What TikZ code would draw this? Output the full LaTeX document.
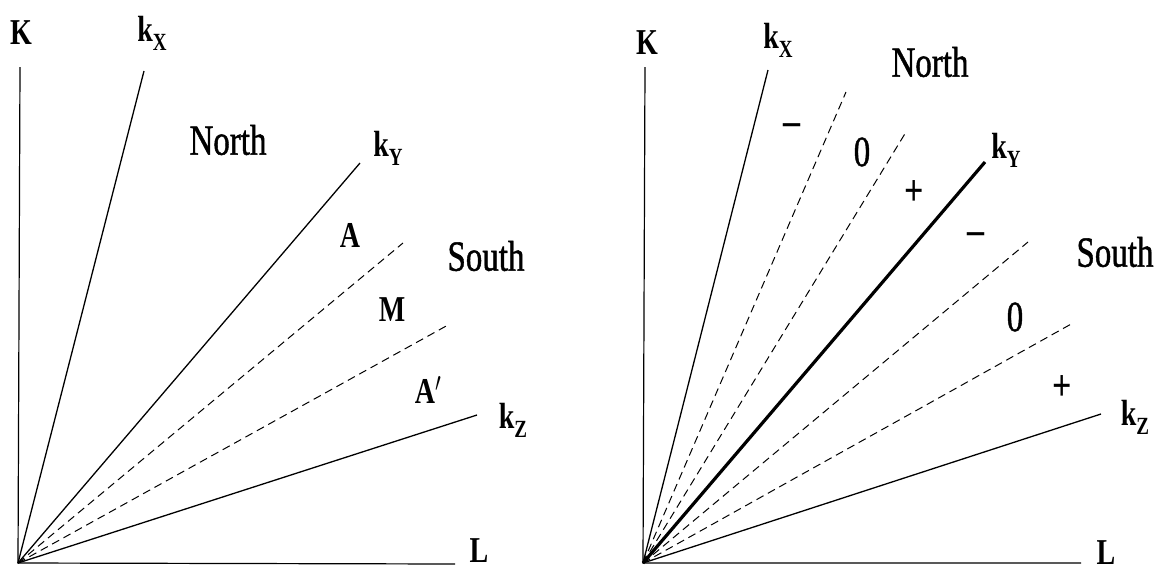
\documentclass[tikz,border=0pt]{standalone}
\usepackage{fontspec}
\setmainfont{Liberation Serif}
\newfontfamily\semib{Liberation Serif}[FakeBold=1.2]
\usepackage{graphicx}
\newcommand{\tall}[1]{\scalebox{1}[1.3]{#1}}
\newcommand{\klab}[1]{\tall{\bfseries k\raisebox{-7pt}{\fontsize{19}{19}\selectfont\bfseries #1}}}
\tikzset{
  axisline/.style={line width=1.2pt},
  ray/.style={line width=1.3pt},
  thickray/.style={line width=3.2pt},
  dray/.style={line width=1pt, dash pattern=on 8pt off 5pt},
  blab/.style={font=\fontsize{28}{30}\selectfont\bfseries, inner sep=0pt},
  rlab/.style={font=\fontsize{33}{36}\selectfont\semib, inner sep=0pt},
  slab/.style={font=\fontsize{34}{36}\selectfont\bfseries, inner sep=0pt},
}
\begin{document}
\begin{tikzpicture}[x=1pt,y=-1pt]
\useasboundingbox (0,0) rectangle (1163,571);
% ---------------- left panel ----------------
\coordinate (O1) at (18,563);
\coordinate (K1) at (20,67);
\coordinate (L1) at (455,564);
\coordinate (X1) at (144,71);
\coordinate (Y1) at (360,163);
\coordinate (D1a) at (403,243);
\coordinate (D1b) at (448,325);
\coordinate (Z1) at (477,415);
\draw[axisline] (K1) -- (O1) -- (L1);
\draw[ray] (O1) -- (X1);
\draw[ray] (O1) -- (Y1);
\draw[dray] (O1) -- (D1a);
\draw[dray] (O1) -- (D1b);
\draw[ray] (O1) -- (Z1);
\node[blab] (lK) at (21,33) {\tall{K}};
\node[blab] (lkx) at (152,33) {\klab{X}};
\node[rlab] (lNorth) at (228,140) {\tall{North}};
\node[blab] (lky) at (388,148) {\klab{Y}};
\node[blab] (lA) at (350,235) {\tall{A}};
\node[rlab] (lSouth) at (486,256) {\tall{South}};
\node[blab] (lM) at (392,310) {\tall{M}};
\node[blab] (lAp) at (428,390) {\tall{A$'$}};
\node[blab] (lkz) at (513,420) {\klab{Z}};
\node[blab] (lL) at (479,551) {\tall{L}};
% ---------------- right panel ----------------
\coordinate (O2) at (643,563);
\coordinate (K2) at (645,67);
\coordinate (L2) at (1081,563);
\coordinate (X2) at (768,70);
\coordinate (D2a) at (846,92);
\coordinate (D2b) at (906,132);
\coordinate (Y2) at (985,162);
\coordinate (D2c) at (1028,242);
\coordinate (D2d) at (1073,323);
\coordinate (Z2) at (1101,414);
\draw[axisline] (K2) -- (O2) -- (L2);
\draw[ray] (O2) -- (X2);
\draw[dray] (O2) -- (D2a);
\draw[dray] (O2) -- (D2b);
\draw[thickray] (O2) -- (Y2);
\draw[dray] (O2) -- (D2c);
\draw[dray] (O2) -- (D2d);
\draw[ray] (O2) -- (Z2);
\node[blab] (rK) at (647,43) {\tall{K}};
\node[blab] (rkx) at (778,40) {\klab{X}};
\node[rlab] (rNorth) at (930,62) {\tall{North}};
\node[slab] (rm1) at (792,130) {\tall{–}};
\node[rlab] (rz1) at (862,152) {\tall{0}};
\node[slab] (rp1) at (914,193) {\tall{+}};
\node[blab] (rky) at (1006,150) {\klab{Y}};
\node[slab] (rm2) at (976,239) {\tall{–}};
\node[rlab] (rSouth) at (1115,252) {\tall{South}};
\node[rlab] (rz2) at (1015,317) {\tall{0}};
\node[slab] (rp2) at (1062,388) {\tall{+}};
\node[blab] (rkz) at (1135,417) {\klab{Z}};
\node[blab] (rL) at (1106,553) {\tall{L}};
\end{tikzpicture}
\end{document}
